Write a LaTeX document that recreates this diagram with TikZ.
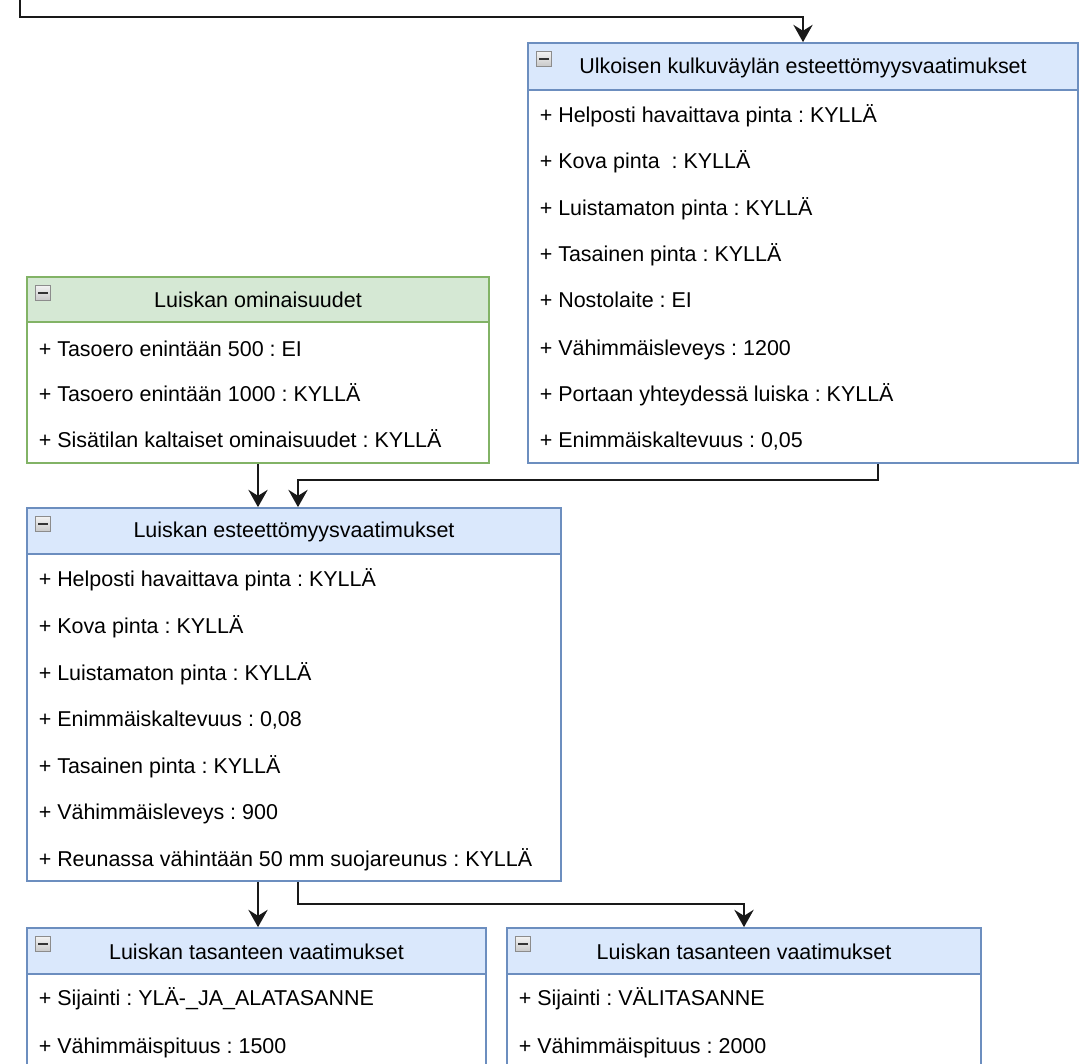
\documentclass[tikz,border=0pt]{standalone}
\usepackage{fontspec}
\setmainfont{Liberation Sans}
\usetikzlibrary{arrows.meta,calc}

\definecolor{hdrblue}{HTML}{DAE8FC}
\definecolor{edgeblue}{HTML}{6C8EBF}
\definecolor{hdrgreen}{HTML}{D5E8D4}
\definecolor{edgegreen}{HTML}{82B366}
\definecolor{iconedge}{HTML}{8C8C8C}
\definecolor{icontop}{HTML}{F2F2F2}
\definecolor{iconbot}{HTML}{C8C8C8}

\tikzset{
  part/.style 2 args={rectangle, draw, line width=1.3pt, inner sep=0pt,
    minimum width=#1, minimum height=#2},
  bluehdr/.style={fill=hdrblue, draw=edgeblue},
  bluebody/.style={fill=white, draw=edgeblue},
  greenhdr/.style={fill=hdrgreen, draw=edgegreen},
  greenbody/.style={fill=white, draw=edgegreen},
  title/.style={inner sep=0pt, font=\fontsize{16.1}{19}\selectfont},
  row/.style={anchor=base west, inner sep=0pt, font=\fontsize{16.1}{19}\selectfont},
  conn/.style={draw=black!90, line width=1.4pt,
    -{Stealth[length=13pt, width=14.5pt, inset=4.5pt]}},
}

% collapse icon in the top left corner of a class header
\newcommand{\collapseicon}[1]{%
  \path[top color=icontop, bottom color=iconbot, draw=iconedge, line width=0.8pt]
    ($(#1.north west)+(9.5,9.5)$) rectangle ++(15,15);
  \draw[line width=1.6pt, black!80] ($(#1.north west)+(12,17)$) -- ++(9.5,0);
}

\frenchspacing
\begin{document}
\begin{tikzpicture}[x=0.75pt, y=-0.75pt]
\clip (0,0) rectangle (1089,1064);
\fill[white] (0,0) rectangle (1089,1064);

% --- Ulkoisen kulkuväylän esteettömyysvaatimukset ---
\node[part={412.5pt}{279.75pt}, bluebody] (aB) at (803,276.5) {};
\node[part={412.5pt}{35.25pt}, bluehdr] (aH) at (803,66.5) {};
\node[title] (aT) at (803,68) {Ulkoisen kulkuväylän esteettömyysvaatimukset};
\collapseicon{aH}
\node[row] (a1) at (539.5,122) {+ Helposti havaittava pinta : KYLLÄ};
\node[row] (a2) at (539.5,168) {+ Kova pinta~~: KYLLÄ};
\node[row] (a3) at (539.5,215) {+ Luistamaton pinta : KYLLÄ};
\node[row] (a4) at (539.5,261) {+ Tasainen pinta : KYLLÄ};
\node[row] (a5) at (539.5,307) {+ Nostolaite : EI};
\node[row] (a6) at (539.5,355) {+ Vähimmäisleveys : 1200};
\node[row] (a7) at (539.5,401) {+ Portaan yhteydessä luiska : KYLLÄ};
\node[row] (a8) at (539.5,447) {+ Enimmäiskaltevuus : 0,05};

% --- Luiskan ominaisuudet ---
\node[part={346.5pt}{105.75pt}, greenbody] (bB) at (258,392.5) {};
\node[part={346.5pt}{33.75pt}, greenhdr] (bH) at (258,299.5) {};
\node[title] (bT) at (258,300) {Luiskan ominaisuudet};
\collapseicon{bH}
\node[row] (b1) at (38.5,356) {+ Tasoero enintään 500 : EI};
\node[row] (b2) at (38.5,401) {+ Tasoero enintään 1000 : KYLLÄ};
\node[row] (b3) at (38.5,447) {+ Sisätilan kaltaiset ominaisuudet : KYLLÄ};

% --- Luiskan esteettömyysvaatimukset ---
\node[part={400.5pt}{245.25pt}, bluebody] (cB) at (294,717.5) {};
\node[part={400.5pt}{34.5pt}, bluehdr] (cH) at (294,531) {};
\node[title] (cT) at (294,532) {Luiskan esteettömyysvaatimukset};
\collapseicon{cH}
\node[row] (c1) at (38.5,586) {+ Helposti havaittava pinta : KYLLÄ};
\node[row] (c2) at (38.5,633) {+ Kova pinta : KYLLÄ};
\node[row] (c3) at (38.5,680) {+ Luistamaton pinta : KYLLÄ};
\node[row] (c4) at (38.5,726) {+ Enimmäiskaltevuus : 0,08};
\node[row] (c5) at (38.5,773) {+ Tasainen pinta : KYLLÄ};
\node[row] (c6) at (38.5,819) {+ Vähimmäisleveys : 900};
\node[row] (c7) at (38.5,866) {+ Reunassa vähintään 50 mm suojareunus : KYLLÄ};

% --- Luiskan tasanteen vaatimukset (ylä- ja alatasanne) ---
\node[part={344.25pt}{79.5pt}, bluebody] (dB) at (256.5,1027) {};
\node[part={344.25pt}{34.5pt}, bluehdr] (dH) at (256.5,951) {};
\node[title] (dT) at (256.5,952) {Luiskan tasanteen vaatimukset};
\collapseicon{dH}
\node[row] (d1) at (38.5,1005) {+ Sijainti : YLÄ-\_JA\_ALATASANNE};
\node[row] (d2) at (38.5,1053) {+ Vähimmäispituus : 1500};

% --- Luiskan tasanteen vaatimukset (välitasanne) ---
\node[part={355.5pt}{79.5pt}, bluebody] (eB) at (744,1027) {};
\node[part={355.5pt}{34.5pt}, bluehdr] (eH) at (744,951) {};
\node[title] (eT) at (744,952) {Luiskan tasanteen vaatimukset};
\collapseicon{eH}
\node[row] (e1) at (518.5,1005) {+ Sijainti : VÄLITASANNE};
\node[row] (e2) at (518.5,1053) {+ Vähimmäispituus : 2000};

% --- connectors ---
\coordinate (feed) at (20,0);
\coordinate (cOutD) at ($(cB.south)+(-36,0)$);
\coordinate (cOutE) at ($(cB.south)+(4,0)$);
\coordinate (aOut) at ($(aB.south)+(75,0)$);
\coordinate (cInA) at ($(cH.north)+(4,0)$);
\draw[conn] (feed) |- ($(aH.north)+(0,-25)$) -- (aH.north);
\draw[conn] (bB.south) -- (bB.south |- cH.north);
\draw[conn] (aOut) |- ($(cInA)+(0,-27)$) -- (cInA);
\draw[conn] (cOutD) -- (cOutD |- dH.north);
\draw[conn] (cOutE) |- ($(eH.north)+(0,-23)$) -- (eH.north);
\end{tikzpicture}
\end{document}
